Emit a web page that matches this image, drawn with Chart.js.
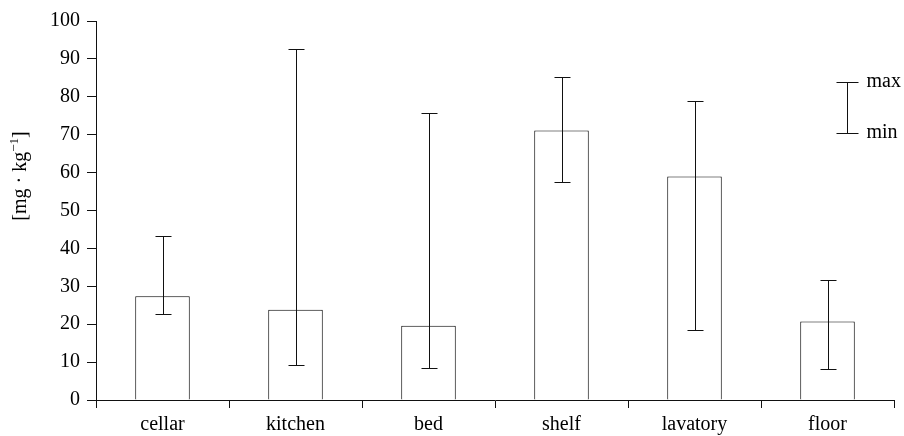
<!DOCTYPE html>
<html>
<head>
<meta charset="utf-8">
<script src="https://cdn.jsdelivr.net/npm/chart.js@4.4.1/dist/chart.umd.min.js"></script>
<style>
  html, body { margin: 0; padding: 0; background: #fff; }
  #wrap { width: 904px; height: 436px; position: relative; }
</style>
</head>
<body>
<div id="wrap"><canvas id="chart" width="904" height="436"></canvas></div>
<script>
// Concentration by sampling place: mean (bar) with min/max range
const categories = ['cellar', 'kitchen', 'bed', 'shelf', 'lavatory', 'floor'];
const meanValues = [27.4, 23.8, 19.6, 71.1, 59.0, 20.7];
const minValues  = [22.7, 9.2, 8.5, 57.4, 18.6, 8.1];
const maxValues  = [43.3, 92.5, 75.8, 85.2, 79.0, 31.7];
const yTicks = [0, 10, 20, 30, 40, 50, 60, 70, 80, 90, 100];

const FONT = '"Liberation Serif", "Times New Roman", serif';
const SIZE = 20;
const INK = '#111';

// min/max whiskers over every bar
const rangeBars = {
  id: 'rangeBars',
  afterDatasetsDraw(chart) {
    const ctx = chart.ctx;
    const y = chart.scales.y;
    const meta = chart.getDatasetMeta(0);
    const cap = 8;
    ctx.save();
    ctx.strokeStyle = INK;
    ctx.lineWidth = 1;
    meta.data.forEach((bar, i) => {
      const x = Math.round(bar.x) + 0.5;
      const yMin = Math.round(y.getPixelForValue(minValues[i])) + 0.5;
      const yMax = Math.round(y.getPixelForValue(maxValues[i])) + 0.5;
      ctx.beginPath();
      ctx.moveTo(x, yMin); ctx.lineTo(x, yMax);
      ctx.moveTo(x - cap, yMin); ctx.lineTo(x + cap, yMin);
      ctx.moveTo(x - cap, yMax); ctx.lineTo(x + cap, yMax);
      ctx.stroke();
    });
    ctx.restore();
  }
};

// key explaining the whisker, plus the rotated unit label
const annotations = {
  id: 'annotations',
  afterDraw(chart) {
    const ctx = chart.ctx;
    const area = chart.chartArea;
    ctx.save();
    // whisker key
    const kx = Math.round(area.right - 47) + 0.5;
    const kTop = Math.round(area.top + 61) + 0.5;
    const kBot = Math.round(area.top + 112) + 0.5;
    ctx.strokeStyle = INK;
    ctx.lineWidth = 1;
    ctx.beginPath();
    ctx.moveTo(kx, kTop); ctx.lineTo(kx, kBot);
    ctx.moveTo(kx - 11, kTop); ctx.lineTo(kx + 11, kTop);
    ctx.moveTo(kx - 11, kBot); ctx.lineTo(kx + 11, kBot);
    ctx.stroke();
    ctx.fillStyle = '#000';
    ctx.font = SIZE + 'px ' + FONT;
    ctx.textAlign = 'left';
    ctx.textBaseline = 'middle';
    ctx.fillText('max', kx + 19, kTop - 1);
    ctx.fillText('min', kx + 19, kBot - 1);

    // unit label, rotated
    const main1 = '[mg · kg';
    const sup = '−1';
    const main2 = ']';
    ctx.font = SIZE + 'px ' + FONT;
    const w1 = ctx.measureText(main1).width;
    const w3 = ctx.measureText(main2).width;
    ctx.font = '13px ' + FONT;
    const w2 = ctx.measureText(sup).width;
    const total = w1 + w2 + w3;
    ctx.translate(26, 176);
    ctx.rotate(-Math.PI / 2);
    ctx.textBaseline = 'alphabetic';
    let cx = -total / 2;
    ctx.font = SIZE + 'px ' + FONT;
    ctx.fillText(main1, cx, 0); cx += w1;
    ctx.font = '13px ' + FONT;
    ctx.fillText(sup, cx, -8); cx += w2;
    ctx.font = SIZE + 'px ' + FONT;
    ctx.fillText(main2, cx, 0);
    ctx.restore();
  }
};

new Chart(document.getElementById('chart'), {
  type: 'bar',
  data: {
    labels: categories,
    datasets: [{
      data: meanValues,
      backgroundColor: '#ffffff',
      borderColor: '#000',
      borderWidth: 1,
      categoryPercentage: 1,
      barPercentage: 0.41
    }]
  },
  options: {
    responsive: false,
    animation: false,
    devicePixelRatio: 1,
    layout: { padding: { top: 21, right: 10, left: 0, bottom: 0 } },
    plugins: { legend: { display: false }, tooltip: { enabled: false } },
    scales: {
      x: {
        grid: { offset: true, drawOnChartArea: false, drawTicks: true, tickLength: 8, color: INK },
        border: { display: true, color: INK, width: 1 },
        ticks: { color: '#000', font: { family: FONT, size: SIZE }, padding: 5, maxRotation: 0 },
        afterFit(scale) { scale.height = 36; }
      },
      y: {
        min: 0,
        max: 100,
        afterBuildTicks(scale) { scale.ticks = yTicks.map(v => ({ value: v })); },
        grid: { drawOnChartArea: false, drawTicks: true, tickLength: 9, color: INK },
        border: { display: true, color: INK, width: 1 },
        ticks: { color: '#000', font: { family: FONT, size: SIZE }, padding: 7 },
        afterFit(scale) { scale.width = 96; }
      }
    }
  },
  plugins: [rangeBars, annotations]
});
</script>
</body>
</html>
